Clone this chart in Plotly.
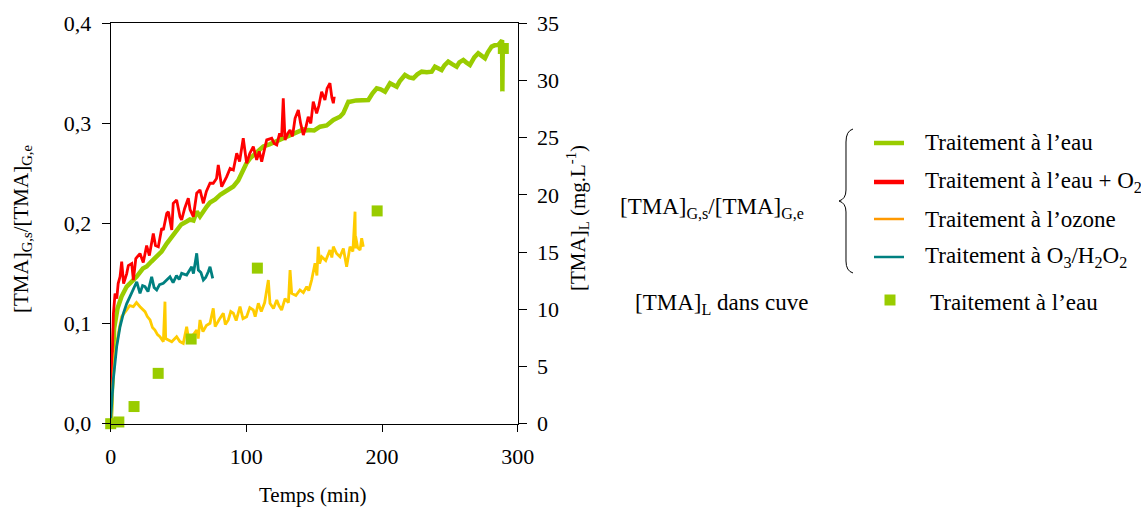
import plotly.graph_objects as go

W, H = 1141, 508

# ---------------- data ----------------
eau_x = [0, 1, 2.5, 5, 8, 11.8, 15, 19.2, 23.7, 26.5, 30, 33.9, 37.5, 41.3, 45, 48.6, 52, 56, 58.4, 61,
         63.4, 65.8, 68, 70.8, 73.2, 77, 81, 85, 90.4, 94, 97.7, 100, 102.7, 107, 112.5, 117, 122.4, 126,
         129.7, 134, 139.5, 142, 144.5, 145.6, 150, 154.3, 159.2, 164.1, 169, 171.4, 175.2, 176.4, 181,
         185, 189.9, 193, 196.1, 199, 202.2, 205.9, 210.8, 213, 216.9, 220, 223.1, 226, 229.2, 233, 236.6,
         239, 241, 243.9, 246, 248.8, 252, 255, 257, 259.9, 262, 264.8, 268, 270.9, 273, 275.9, 278, 280.8,
         283, 285.7, 288.5, 288.7, 289.0, 291.9]
eau_y = [0, 0.05, 0.095, 0.115, 0.127, 0.137, 0.141, 0.147, 0.155, 0.157, 0.162, 0.167, 0.172, 0.180,
         0.187, 0.194, 0.199, 0.202, 0.204, 0.203, 0.212, 0.207, 0.212, 0.217, 0.221, 0.224, 0.229, 0.232,
         0.237, 0.243, 0.254, 0.260, 0.265, 0.270, 0.277, 0.279, 0.282, 0.285, 0.287, 0.289, 0.292, 0.294,
         0.293, 0.2934, 0.293, 0.2967, 0.298, 0.3034, 0.3067, 0.3101, 0.3217, 0.3217, 0.323, 0.3234, 0.3234,
         0.330, 0.3351, 0.334, 0.3317, 0.3401, 0.3367, 0.342, 0.3484, 0.346, 0.3451, 0.349, 0.3517, 0.351,
         0.3517, 0.3567, 0.355, 0.3534, 0.358, 0.3617, 0.359, 0.3567, 0.361, 0.3634, 0.361, 0.3584, 0.366,
         0.3701, 0.368, 0.3651, 0.371, 0.3767, 0.378, 0.3784, 0.383, 0.332, 0.378, 0.375]

o2_x = [0, 0.7, 1.5, 2, 3.2, 4.5, 5.5, 6.9, 8.1, 9.5, 11.8, 13, 15.5, 16.7, 18.5, 21.6, 24, 26.5, 28.5,
        31.4, 33, 35.1, 37.6, 38.8, 41.3, 42.5, 45, 46.1, 48.6, 51.1, 52.3, 54.5, 57.2, 58.5, 60.9, 63.4,
        65.8, 68.3, 70.5, 73.2, 75.6, 78, 79.3, 81.8, 85.5, 88, 90.4, 92.9, 95, 97.7, 100.2, 102.5, 105.1,
        107.6, 109.5, 111.3, 113, 115, 118.7, 120.5, 122.4, 124.5, 126, 127.2, 128.5, 130.5, 132.2, 134,
        135.9, 138.3, 140, 142, 144, 145.6, 147.5, 149.3, 151.8, 153.5, 155.5, 157.9, 159.5, 161.6, 163,
        164.1, 164.8]
o2_y = [0.01, 0.044, 0.09, 0.11, 0.13, 0.125, 0.14, 0.147, 0.162, 0.14, 0.15, 0.158, 0.16, 0.1435, 0.165,
        0.17, 0.161, 0.178, 0.168, 0.19, 0.178, 0.1768, 0.1952, 0.1935, 0.21, 0.2118, 0.1935, 0.2202,
        0.2235, 0.2068, 0.2035, 0.215, 0.2252, 0.214, 0.2068, 0.2302, 0.2335, 0.2202, 0.232, 0.2402, 0.2402,
        0.245, 0.2585, 0.2368, 0.2468, 0.255, 0.2535, 0.2701, 0.262, 0.2851, 0.2601, 0.27, 0.2768, 0.2635,
        0.272, 0.2618, 0.272, 0.2835, 0.2851, 0.28, 0.2785, 0.29, 0.2868, 0.3251, 0.2835, 0.29, 0.2934,
        0.287, 0.3051, 0.3134, 0.30, 0.2884, 0.297, 0.3067, 0.30, 0.3217, 0.3101, 0.318, 0.3317, 0.3234,
        0.335, 0.3401, 0.326, 0.3201, 0.3267]

ozone_x = [0, 0.7, 1.5, 3.2, 5.6, 8.1, 11.8, 14, 16.7, 19, 21.6, 23.5, 25.3, 27, 29, 30.8, 32.6, 34.5, 36.3,
           38.8, 40, 40.5, 43, 45, 48.6, 51, 53.5, 56, 57.5, 59.7, 61.5, 63.4, 64.5, 65.8, 68, 70.5, 73.2,
           75.6, 77, 80, 83, 84.5, 86.7, 88.5, 90.4, 92.5, 95.3, 97.5, 100.2, 102.5, 105.1, 106.5, 108.8, 111,
           113.5, 116.2, 117.4, 120, 122.4, 124, 126, 128.5, 131, 132.2, 133.4, 136.5, 139.5, 142, 144.5, 146,
           148.1, 150.6, 152, 153, 154, 155.5, 158.5, 161.6, 163, 164.1, 166.5, 169, 171.5, 173.9, 175, 176.4,
           178.5, 180.1, 180.4, 180.6, 182, 183.8, 185, 186.2]
ozone_y = [0.0, 0.01, 0.037, 0.07, 0.09, 0.107, 0.1136, 0.118, 0.1169, 0.121, 0.1169, 0.114, 0.1119, 0.107,
           0.1036, 0.096, 0.0936, 0.089, 0.0869, 0.0819, 0.1219, 0.085, 0.0836, 0.0819, 0.0869, 0.082, 0.0803,
           0.0969, 0.084, 0.0869, 0.09, 0.0936, 0.085, 0.1036, 0.092, 0.098, 0.1003, 0.1153, 0.097, 0.104,
           0.1103, 0.099, 0.1036, 0.112, 0.1103, 0.103, 0.1169, 0.105, 0.1069, 0.116, 0.1136, 0.107, 0.1203,
           0.112, 0.121, 0.1435, 0.1203, 0.115, 0.1236, 0.118, 0.1136, 0.125, 0.121, 0.1535, 0.1302, 0.128,
           0.1336, 0.131, 0.1369, 0.133, 0.1435, 0.1602, 0.148, 0.1768, 0.16, 0.1668, 0.163, 0.1735, 0.166,
           0.1768, 0.17, 0.1668, 0.175, 0.1568, 0.165, 0.1768, 0.172, 0.2118, 0.175, 0.1868, 0.176, 0.1735,
           0.1852, 0.1768]

o3h2o2_x = [0, 1.9, 4.4, 6.9, 9.3, 11.8, 14.2, 16.7, 19.2, 21.6, 23.5, 25.3, 27.5, 30.2, 32, 33.9, 36, 38.8,
            41.3, 43.7, 46, 48.5, 50.5, 52.3, 56, 58, 59.7, 61, 63.4, 64.6, 66.5, 68.3, 70, 72, 73.2, 75.2]
o3h2o2_y = [0.004, 0.044, 0.077, 0.097, 0.11, 0.12, 0.127, 0.1336, 0.1418, 0.1302, 0.138, 0.1369, 0.132,
            0.1468, 0.136, 0.1336, 0.139, 0.1402, 0.1435, 0.1468, 0.141, 0.148, 0.144, 0.1502, 0.1485, 0.153,
            0.1568, 0.15, 0.1702, 0.1535, 0.151, 0.1435, 0.146, 0.152, 0.1568, 0.1452]

cuve_x = [0, 6, 17.2, 35, 59.3, 108.1, 196.4, 289.4]
cuve_y = [0, 0.15, 1.5, 4.4, 7.4, 13.6, 18.6, 32.8]

x_ticks = [0, 100, 200, 300]
y_ticks = [0, 0.1, 0.2, 0.3, 0.4]
y_ticklabels = ["0,0", "0,1", "0,2", "0,3", "0,4"]
y2_ticks = [0, 5, 10, 15, 20, 25, 30, 35]

legend_gas_labels = ["Traitement à l’eau", "Traitement à l’eau + O<sub>2</sub>",
                     "Traitement à l’ozone", "Traitement à O<sub>3</sub>/H<sub>2</sub>O<sub>2</sub>"]
legend_liq_label = "Traitement à l’eau"

# ---------------- styles ----------------
GREEN = "#99CC00"
RED = "#FF0000"
YELLOW = "#FFCC00"
ORANGE = "#FF9900"
TEAL = "#008080"
FONT = "Liberation Serif, Times New Roman, Times, serif"


def px(x):
    return x / W


def py(y):
    return 1 - y / H


fig = go.Figure()
fig.add_trace(go.Scatter(x=eau_x, y=eau_y, mode="lines", line=dict(color=GREEN, width=4.5),
                         showlegend=False))
fig.add_trace(go.Scatter(x=o2_x, y=o2_y, mode="lines", line=dict(color=RED, width=2.8),
                         showlegend=False))
fig.add_trace(go.Scatter(x=ozone_x, y=ozone_y, mode="lines", line=dict(color=YELLOW, width=2.8),
                         showlegend=False))
fig.add_trace(go.Scatter(x=o3h2o2_x, y=o3h2o2_y, mode="lines", line=dict(color=TEAL, width=2.8),
                         showlegend=False))
fig.add_trace(go.Scatter(x=cuve_x, y=cuve_y, mode="markers", yaxis="y2", cliponaxis=False,
                         marker=dict(symbol="square", size=11, color=GREEN, line=dict(width=0)),
                         showlegend=False))

X0, X1 = 110.7, 517.7
Y0, Y1 = 23.3, 423.7
tickfont = dict(family=FONT, size=22, color="black")
common = dict(ticks="outside", tickwidth=1, tickcolor="black", showline=True, linecolor="black",
              linewidth=1, showgrid=False, zeroline=False, tickfont=tickfont, automargin=False)

fig.update_layout(
    template="none",
    width=W, height=H,
    margin=dict(l=0, r=0, t=0, b=0, autoexpand=False),
    paper_bgcolor="white", plot_bgcolor="white",
    showlegend=False,
    font=dict(family=FONT, size=21, color="black"),
    xaxis=dict(domain=[px(X0), px(X1)], range=[0, 300], tickvals=x_ticks,
               ticktext=[str(v) for v in x_ticks], ticklen=7, mirror=True, anchor="y",
               ticklabelstandoff=6, **common),
    yaxis=dict(domain=[py(Y1), py(Y0)], range=[0, 0.4], tickvals=y_ticks, ticktext=y_ticklabels,
               ticklen=8, anchor="x", ticklabelstandoff=6, **common),
    yaxis2=dict(range=[0, 35], tickvals=y2_ticks, ticktext=[str(v) for v in y2_ticks],
                overlaying="y", side="right", anchor="x", ticklen=8, ticklabelstandoff=6, **common),
)

ann = []
# axis titles
TFONT = dict(family=FONT, size=21, color="black")
ann.append(dict(x=px(22), y=py(229), xref="paper", yref="paper",
                text="[TMA]<sub>G,s</sub>/[TMA]<sub>G,e</sub>", textangle=-90, showarrow=False,
                xanchor="center", yanchor="middle", font=TFONT))
ann.append(dict(x=px(577), y=py(218), xref="paper", yref="paper",
                text="[TMA]<sub>L</sub> (mg.L<sup>-1</sup>)", textangle=-90, showarrow=False,
                xanchor="center", yanchor="middle", font=TFONT))
ann.append(dict(x=px(313), y=py(495), xref="paper", yref="paper", text="Temps (min)",
                showarrow=False, xanchor="center", yanchor="middle", font=TFONT))

# custom legend
LFONT = dict(family=FONT, size=23, color="black")
legend_rows = [143, 182, 219, 257]
legend_cols = [GREEN, RED, ORANGE, TEAL]
legend_w = [4.5, 4.5, 2.5, 2.5]
shapes = []
for row, col, lw, lab in zip(legend_rows, legend_cols, legend_w, legend_gas_labels):
    shapes.append(dict(type="line", xref="paper", yref="paper", x0=px(874), x1=px(904), y0=py(row),
                       y1=py(row), line=dict(color=col, width=lw)))
    ann.append(dict(x=px(923), y=py(row), xref="paper", yref="paper", text=lab, showarrow=False,
                    xanchor="left", yanchor="middle", font=LFONT))

ann.append(dict(x=px(712), y=py(208), xref="paper", yref="paper",
                text="[TMA]<sub>G,s</sub>/[TMA]<sub>G,e</sub>", showarrow=False,
                xanchor="center", yanchor="middle", font=LFONT))
ann.append(dict(x=px(722), y=py(304), xref="paper", yref="paper",
                text="[TMA]<sub>L</sub> dans cuve", showarrow=False,
                xanchor="center", yanchor="middle", font=LFONT))
ann.append(dict(x=px(928), y=py(302), xref="paper", yref="paper", text=legend_liq_label,
                showarrow=False, xanchor="left", yanchor="middle", font=LFONT))
shapes.append(dict(type="rect", xref="paper", yref="paper", x0=px(884.5), x1=px(895.5), y0=py(294.5),
                   y1=py(305.5), fillcolor=GREEN, line=dict(width=0)))


# brace
def P(x, y):
    return f"{px(x):.5f},{py(y):.5f}"


brace = ("M " + P(853, 129) + " Q " + P(846, 131) + " " + P(846, 142) + " L " + P(846, 190)
         + " Q " + P(846, 199) + " " + P(839, 201) + " Q " + P(846, 203) + " " + P(846, 212)
         + " L " + P(846, 261) + " Q " + P(846, 271) + " " + P(853, 273))
shapes.append(dict(type="path", xref="paper", yref="paper", path=brace,
                   line=dict(color="black", width=1)))

fig.update_layout(annotations=ann, shapes=shapes)
fig.write_html("out.html", config={"displayModeBar": False},
               post_script="document.body.style.margin='0px';document.body.style.overflow='hidden';")
